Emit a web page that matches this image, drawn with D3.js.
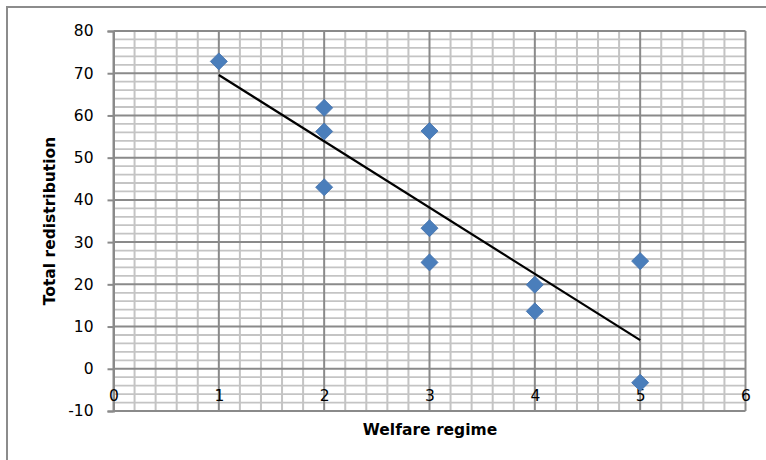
<!DOCTYPE html>
<html>
<head>
<meta charset="utf-8">
<script src="https://cdn.jsdelivr.net/npm/d3@7"></script>
<style>
  html, body { margin: 0; padding: 0; background: #fff; }
  svg { display: block; }
  text { font-family: "DejaVu Sans", "Open Sans", sans-serif; }
</style>
</head>
<body>
<svg id="chart" width="766" height="460"></svg>
<script>
// Welfare regime (1-5) vs. total redistribution, one point per country
const regimeValues = [1, 2, 2, 2, 3, 3, 3, 4, 4, 5, 5];
const redistributionValues = [72.8, 61.8, 56.2, 43.0, 56.3, 33.3, 25.2, 19.9, 13.6, 25.5, -3.3];

const xTickLabels = [0, 1, 2, 3, 4, 5, 6];
const yTickLabels = [-10, 0, 10, 20, 30, 40, 50, 60, 70, 80];

const xTitle = "Welfare regime";
const yTitle = "Total redistribution";

const points = regimeValues.map((r, i) => ({ x: r, y: redistributionValues[i] }));

const svg = d3.select("#chart");

const plot = { left: 113.5, right: 745.5, top: 31, bottom: 411 };

const x = d3.scaleLinear().domain([0, 6]).range([plot.left, plot.right]);
const y = d3.scaleLinear().domain([-10, 80]).range([plot.bottom, plot.top]);

// plain hyphen for negatives
const plainFormat = d => String(d);

// chart-area frame (runs off the right and bottom edges)
svg.append("path")
  .attr("d", `M7,470 L7,7 L780,7`)
  .attr("fill", "none")
  .attr("stroke", "#8c8c8c")
  .attr("stroke-width", 2);

// minor gridlines
const minorX = d3.range(0, 31).map(i => i / 5).filter(v => v % 1 !== 0);
const minorY = d3.range(-10, 81, 2).filter(v => v % 10 !== 0);
const grid = svg.append("g");
grid.selectAll(".mx").data(minorX).join("line")
  .attr("x1", d => x(d)).attr("x2", d => x(d))
  .attr("y1", plot.top).attr("y2", plot.bottom)
  .attr("stroke", "#c4c4c4").attr("stroke-width", 2);
grid.selectAll(".my").data(minorY).join("line")
  .attr("x1", plot.left).attr("x2", plot.right)
  .attr("y1", d => y(d)).attr("y2", d => y(d))
  .attr("stroke", "#c4c4c4").attr("stroke-width", 1.8);

// major gridlines
grid.selectAll(".Mx").data(xTickLabels).join("line")
  .attr("x1", d => x(d)).attr("x2", d => x(d))
  .attr("y1", plot.top).attr("y2", plot.bottom)
  .attr("stroke", "#8a8a8a").attr("stroke-width", 2);
grid.selectAll(".My").data(yTickLabels).join("line")
  .attr("x1", plot.left).attr("x2", plot.right)
  .attr("y1", d => y(d)).attr("y2", d => y(d))
  .attr("stroke", "#8a8a8a").attr("stroke-width", 2);

// y axis
const yAxis = svg.append("g")
  .attr("transform", `translate(${plot.left},0)`)
  .call(d3.axisLeft(y).tickValues(yTickLabels).tickSize(6).tickPadding(14).tickFormat(plainFormat));
yAxis.select(".domain").attr("stroke", "#8a8a8a").attr("stroke-width", 2);
yAxis.selectAll(".tick line").attr("stroke", "#8a8a8a").attr("stroke-width", 2);
yAxis.selectAll("text").attr("font-size", 15.5).attr("fill", "#000")
  .style("font-family", "'DejaVu Sans', sans-serif");

// x axis labels sit below the zero line
const xAxis = svg.append("g")
  .attr("transform", `translate(0,${y(0)})`)
  .call(d3.axisBottom(x).tickValues(xTickLabels).tickSize(0).tickPadding(21.5).tickFormat(plainFormat));
xAxis.select(".domain").remove();
xAxis.selectAll("text").attr("font-size", 15.5).attr("fill", "#000")
  .style("font-family", "'DejaVu Sans', sans-serif");

// least-squares trend line over the observed range
const mx = d3.mean(points, d => d.x), my = d3.mean(points, d => d.y);
const slope = d3.sum(points, d => (d.x - mx) * (d.y - my)) / d3.sum(points, d => (d.x - mx) ** 2);
const intercept = my - slope * mx;
const [x0, x1] = d3.extent(points, d => d.x);
svg.append("line")
  .attr("x1", x(x0)).attr("y1", y(intercept + slope * x0))
  .attr("x2", x(x1)).attr("y2", y(intercept + slope * x1))
  .attr("stroke", "#000").attr("stroke-width", 2.2);

// diamond markers
const diamond = d3.symbol().type(d3.symbolSquare).size(145);
svg.append("g").selectAll("path").data(points).join("path")
  .attr("d", diamond)
  .attr("transform", d => `translate(${x(d.x)},${y(d.y)}) rotate(45)`)
  .attr("fill", "#4A7EBB")
  .attr("stroke", "#4473AE")
  .attr("stroke-width", 0.8);

// axis titles
svg.append("text")
  .attr("x", 430)
  .attr("y", 435)
  .attr("text-anchor", "middle")
  .attr("font-size", 15.5).attr("font-weight", "bold").attr("fill", "#000")
  .text(xTitle);

svg.append("text")
  .attr("transform", `translate(55,221) rotate(-90)`)
  .attr("text-anchor", "middle")
  .attr("font-size", 15.5).attr("font-weight", "bold").attr("fill", "#000")
  .text(yTitle);
</script>
</body>
</html>
